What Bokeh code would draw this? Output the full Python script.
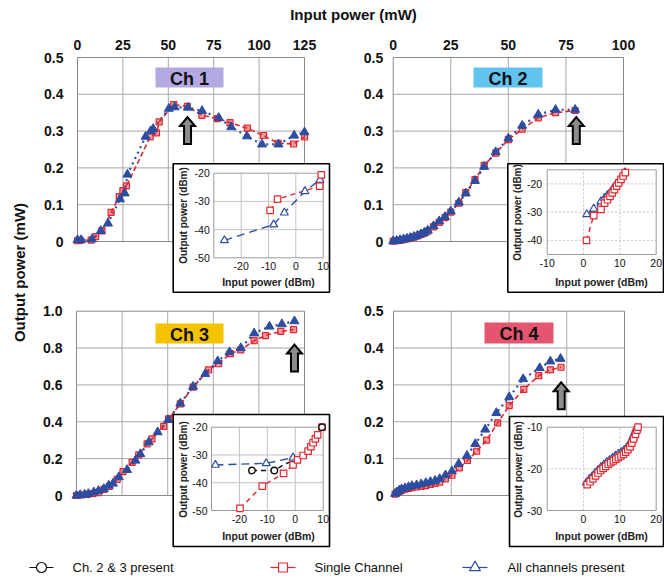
import math
from bokeh.plotting import figure
from bokeh.models import Range1d
from bokeh.embed import file_html
from bokeh.resources import INLINE
from bokeh.core.properties import value

W, H = 664, 578
FONT = value("Liberation Sans")
RED = "#e3262d"
BLUE = "#2c4da0"
BLACK = "#111111"

# ---------------- data ----------------
# Ch 1 main (input mW, output mW)
ch1_single_x = [0, 1.5, 7.5, 10, 13.5, 18.5, 23, 25, 27, 40, 43.5, 45, 53, 60.5, 68.5, 77, 84, 93.5, 102.5, 110.5, 119, 125]
ch1_single_y = [0.002, 0.003, 0.004, 0.013, 0.029, 0.079, 0.122, 0.138, 0.151, 0.284, 0.295, 0.325, 0.372, 0.367, 0.343, 0.334, 0.323, 0.308, 0.288, 0.267, 0.265, 0.284]
ch1_all_x = [0, 2, 8, 12.8, 16.8, 23.4, 26, 27.5, 37.5, 40.3, 41.7, 50.3, 53.5, 60.8, 68.6, 77.8, 84.6, 93.3, 101.6, 110.7, 119.3, 125]
ch1_all_y = [0.004, 0.004, 0.006, 0.029, 0.049, 0.115, 0.131, 0.182, 0.285, 0.300, 0.306, 0.361, 0.365, 0.364, 0.355, 0.336, 0.311, 0.286, 0.264, 0.264, 0.288, 0.297]
# Ch 1 inset (dBm)
ch1_in_single_x = [-9.4, -6.7, 8.7, 9.3]
ch1_in_single_y = [-33.2, -29.2, -24.6, -20.6]
ch1_in_all_x = [-26.1, -8.1, -4.2, 3.3, 8.8]
ch1_in_all_y = [-43.8, -38.2, -34.0, -26.4, -22.4]

# Ch 2 main
ch2_x = [0, 1.5, 3, 4.5, 6, 7.5, 9, 10.5, 12, 13.5, 15, 17.5, 20, 22.5, 25, 28.5, 31.5, 35.5, 39.5, 44.5, 50, 56, 63, 70.5, 79]
ch2_all_y = [0.001, 0.002, 0.004, 0.006, 0.008, 0.010, 0.013, 0.016, 0.020, 0.024, 0.030, 0.042, 0.055, 0.067, 0.082, 0.106, 0.131, 0.165, 0.203, 0.243, 0.280, 0.315, 0.345, 0.358, 0.358]
ch2_single_y = [0.001, 0.002, 0.003, 0.005, 0.007, 0.009, 0.012, 0.015, 0.019, 0.023, 0.028, 0.040, 0.052, 0.065, 0.080, 0.104, 0.133, 0.168, 0.207, 0.240, 0.277, 0.305, 0.336, 0.350, 0.356]
# Ch 2 inset
ch2_in_single_x = [0.8, 2.8, 4.8, 5.8, 6.6, 7.3, 7.9, 8.5, 9.1, 9.7, 10.3, 10.9, 11.5]
ch2_in_single_y = [-40.0, -31.2, -29.0, -26.8, -25.6, -24.4, -23.2, -22.0, -20.8, -19.6, -18.4, -17.2, -16.0]
ch2_in_all_x = [0.9, 2.8, 4.8, 5.8, 6.6, 7.4, 8.1, 8.8, 9.5, 10.2, 10.8, 11.4]
ch2_in_all_y = [-30.8, -28.8, -26.2, -25.0, -24.0, -23.0, -21.8, -20.6, -19.4, -18.2, -17.0, -15.9]

# Ch 3 main
ch3_all_x = [0, 2, 4.5, 6.5, 9.5, 12, 15, 17.7, 20, 23.2, 27.7, 32.3, 35, 39.6, 44.5, 50.2, 56.9, 63.9, 70.6, 77.4, 83.9, 90.1, 97.4, 105.8, 112.6, 119.5]
ch3_all_y = [0, 0.003, 0.005, 0.009, 0.018, 0.025, 0.036, 0.054, 0.065, 0.100, 0.139, 0.190, 0.225, 0.289, 0.344, 0.410, 0.500, 0.591, 0.660, 0.729, 0.778, 0.800, 0.880, 0.917, 0.930, 0.946]
ch3_single_x = [0, 3, 6, 9, 12, 15, 18, 22.3, 25.5, 30.5, 34.1, 38.7, 41.4, 47.8, 50.5, 56.9, 63.9, 72.4, 77.9, 84.3, 90, 97.4, 103.6, 112, 119]
ch3_single_y = [0, 0.003, 0.006, 0.010, 0.015, 0.033, 0.050, 0.087, 0.130, 0.180, 0.220, 0.280, 0.307, 0.375, 0.416, 0.497, 0.588, 0.682, 0.715, 0.770, 0.790, 0.840, 0.868, 0.890, 0.900]
# Ch 3 inset
ch3_in_single_x = [-19.8, -11.8, -4.2, -0.8, 0.8, 2.8, 4.6, 5.6, 6.4, 7.2, 8.0, 9.6]
ch3_in_single_y = [-49.2, -41.2, -36.6, -33.6, -31.8, -30.2, -28.6, -27.0, -25.6, -24.2, -22.8, -20.0]
ch3_in_all_x = [-28.6, -10.4, -0.8]
ch3_in_all_y = [-33.6, -33.0, -31.0]
ch3_in_23_x = [-15.5, -7.5, 9.6]
ch3_in_23_y = [-35.6, -35.6, -20.0]
ch3_in_23_line_x = [-15.5, -7.5, -4.0, 0.0, 3.0, 5.5, 9.6]
ch3_in_23_line_y = [-35.6, -35.6, -33.4, -31.8, -29.6, -26.6, -20.0]

# Ch 4 main
ch4_all_x = [0.7, 1.5, 2.5, 3.5, 5, 6.5, 8, 10, 12, 14, 16, 18, 20, 22.5, 25.3, 28.2, 31.8, 35.4, 39.7, 44.5, 50.1, 56.1, 63.3, 67.9, 72.3]
ch4_all_y = [0.005, 0.009, 0.014, 0.017, 0.020, 0.023, 0.026, 0.028, 0.031, 0.034, 0.037, 0.040, 0.045, 0.055, 0.066, 0.086, 0.108, 0.140, 0.179, 0.224, 0.267, 0.316, 0.346, 0.364, 0.371]
ch4_single_x = [0.7, 1.5, 2.5, 3.5, 5, 6.5, 8, 10, 12, 14, 16, 18, 20, 22.5, 25.3, 28.5, 32, 36, 40.3, 45.1, 50.1, 56.4, 62.9, 67.9, 72.5]
ch4_single_y = [0.004, 0.007, 0.011, 0.014, 0.017, 0.019, 0.021, 0.023, 0.025, 0.027, 0.030, 0.033, 0.036, 0.045, 0.055, 0.075, 0.095, 0.120, 0.150, 0.197, 0.244, 0.288, 0.325, 0.341, 0.348]
# Ch 4 inset
ch4_in_single_x = [1.0, 1.8, 2.6, 3.3, 4.0, 4.7, 5.4, 6.1, 6.8, 7.5, 8.2, 8.9, 9.6, 10.3, 11.0, 11.6, 12.2, 12.8, 13.3, 13.8, 14.3, 14.7, 15.0]
ch4_in_single_y = [-23.8, -23.1, -22.4, -21.7, -21.0, -20.4, -19.9, -19.4, -18.9, -18.5, -18.1, -17.7, -17.3, -16.9, -16.5, -16.0, -15.4, -14.7, -13.8, -12.8, -11.7, -10.7, -10.0]
ch4_in_all_x = [0.8, 1.6, 2.4, 3.2, 4.0, 4.8, 5.6, 6.4, 7.2, 8.0, 8.8, 9.6, 10.4, 11.2, 11.9, 12.5, 13.1, 13.6, 14.1, 14.5]
ch4_in_all_y = [-23.3, -22.5, -21.8, -21.0, -20.3, -19.6, -19.0, -18.4, -17.9, -17.4, -16.9, -16.4, -16.0, -15.5, -14.9, -14.2, -13.3, -12.3, -11.2, -10.3]

# arrows (tip position in data units)
arrow_tips = {"ch1": (60.6, 0.338), "ch2": (79.5, 0.338), "ch3": (119.5, 0.819), "ch4": (72.6, 0.307)}

# tick labels
mw_ticks_125 = [0, 25, 50, 75, 100, 125]
mw_ticks_100 = [0, 25, 50, 75, 100]
out_ticks_05 = [0, 0.1, 0.2, 0.3, 0.4, 0.5]
out_labels_05 = ["0", "0.1", "0.2", "0.3", "0.4", "0.5"]
out_ticks_10 = [0, 0.2, 0.4, 0.6, 0.8, 1.0]
out_labels_10 = ["0", "0.2", "0.4", "0.6", "0.8", "1.0"]

# ---------------- figure ----------------
p = figure(width=W, height=H, x_range=Range1d(0, W), y_range=Range1d(H, 0),
           output_backend="svg", toolbar_location=None,
           x_axis_location=None, y_axis_location=None, min_border=0)
p.grid.visible = False
p.outline_line_color = None
p.background_fill_color = "white"
p.border_fill_color = "white"


def panel(name, L, T, R, B, xlim, ylim):
    x0, x1 = xlim
    y0, y1 = ylim
    kx = (x1 - x0) / (R - L)
    ky = (y1 - y0) / (B - T)
    xs = x0 - L * kx
    ys = y0 - (H - B) * ky
    p.extra_x_ranges = {**p.extra_x_ranges, name + "_x": Range1d(xs, xs + W * kx)}
    p.extra_y_ranges = {**p.extra_y_ranges, name + "_y": Range1d(ys, ys + H * ky)}
    return dict(L=L, T=T, R=R, B=B, xlim=xlim, ylim=ylim, kx=kx, ky=ky,
                xr=name + "_x", yr=name + "_y")


def rn(pn):
    return dict(x_range_name=pn["xr"], y_range_name=pn["yr"])


def grid(pn, xt, yt, color, dash="solid", frame_color="#8a8a8a"):
    (x0, x1), (y0, y1) = pn["xlim"], pn["ylim"]
    gx = [t for t in xt if x0 < t < x1]
    gy = [t for t in yt if y0 < t < y1]
    p.segment(x0=gx, y0=[y0] * len(gx), x1=gx, y1=[y1] * len(gx),
              line_color=color, line_width=1, line_dash=dash, **rn(pn))
    p.segment(x0=[x0] * len(gy), y0=gy, x1=[x1] * len(gy), y1=gy,
              line_color=color, line_width=1, line_dash=dash, **rn(pn))
    p.quad(left=[x0], right=[x1], bottom=[y0], top=[y1], fill_color=None,
           line_color=frame_color, line_width=1, **rn(pn))


def yticklabels(pn, ticks, labels, gap, size, style):
    p.text(x=[pn["L"] - gap] * len(ticks), y=ticks, text=labels,
           x_range_name="default", y_range_name=pn["yr"],
           text_align="right", text_baseline="middle", text_font=FONT,
           text_font_size=size, text_font_style=style, text_color=BLACK)


def xticklabels(pn, ticks, labels, ypix, size, style):
    p.text(x=ticks, y=[ypix] * len(ticks), text=labels,
           x_range_name=pn["xr"], y_range_name="default",
           text_align="center", text_baseline="middle", text_font=FONT,
           text_font_size=size, text_font_style=style, text_color=BLACK)


def main_series(pn, sx, sy, ax, ay):
    p.line(sx, sy, line_color=RED, line_width=1.6, line_dash="5 3", **rn(pn))
    p.line(ax, ay, line_color=BLUE, line_width=2.2, line_dash="2 4", **rn(pn))
    p.scatter(sx, sy, marker="square", size=6, line_color=RED, fill_color=RED,
              fill_alpha=0.45, line_width=1.2, **rn(pn))
    p.scatter(ax, ay, marker="triangle", size=9, line_color=BLUE, fill_color=BLUE,
              line_width=1, **rn(pn))


def arrow(pn, tip):
    xa, ya = tip
    kx, ky = pn["kx"], pn["ky"]
    hw, hh, sw, sl = 7.5, 9, 3.5, 18
    xs = [xa, xa + hw * kx, xa + sw * kx, xa + sw * kx, xa - sw * kx, xa - sw * kx, xa - hw * kx]
    ys = [ya, ya - hh * ky, ya - hh * ky, ya - (hh + sl) * ky, ya - (hh + sl) * ky, ya - hh * ky, ya - hh * ky]
    p.patch(xs, ys, fill_color="#8c8c8c", line_color="black", line_width=2,
            line_join="miter", **rn(pn))


def ch_box(L, T, R, B, color, label):
    p.quad(left=[L], right=[R], top=[T], bottom=[B], fill_color=color,
           line_color=None)
    p.text(x=[(L + R) / 2], y=[(T + B) / 2 + 1], text=[label], text_align="center",
           text_baseline="middle", text_font=FONT, text_font_size="18px",
           text_font_style="bold", text_color=BLACK)


def inset(L, T, R, B):
    p.quad(left=[L], right=[R], top=[T], bottom=[B], fill_color="white",
           line_color="black", line_width=1.6)


def inset_labels(ylab_xy, xlab_xy):
    p.text(x=[ylab_xy[0]], y=[ylab_xy[1]], text=["Output power (dBm)"], angle=math.pi / 2,
           text_align="center", text_baseline="middle", text_font=FONT,
           text_font_size="10px", text_font_style="bold", text_color="#222222")
    p.text(x=[xlab_xy[0]], y=[xlab_xy[1]], text=["Input power (dBm)"],
           text_align="center", text_baseline="middle", text_font=FONT,
           text_font_size="10.5px", text_font_style="bold", text_color="#222222")


def inset_series(pn, sx, sy, ax, ay):
    p.line(ax, ay, line_color=BLUE, line_width=1.4, line_dash="8 5", **rn(pn))
    p.line(sx, sy, line_color=RED, line_width=1.4, line_dash="5 4", **rn(pn))
    p.scatter(ax, ay, marker="triangle", size=8, line_color=BLUE, fill_color="white",
              line_width=1.2, **rn(pn))
    p.scatter(sx, sy, marker="square", size=6.5, line_color=RED, fill_color="white",
              line_width=1.2, **rn(pn))


# ---------------- titles ----------------
p.text(x=[353], y=[14], text=["Input power (mW)"], text_align="center",
       text_baseline="middle", text_font=FONT, text_font_size="15px",
       text_font_style="bold", text_color=BLACK)
p.text(x=[19], y=[272], text=["Output power (mW)"], angle=math.pi / 2,
       text_align="center", text_baseline="middle", text_font=FONT,
       text_font_size="15px", text_font_style="bold", text_color=BLACK)

GRID = "#a8a8a8"

# ---------------- Ch 1 ----------------
p1 = panel("p1", 77, 57, 304, 241, (0, 125), (0, 0.5))
grid(p1, mw_ticks_125, out_ticks_05, GRID)
yticklabels(p1, out_ticks_05, out_labels_05, 14, "14px", "bold")
xticklabels(p1, mw_ticks_125, [str(t) for t in mw_ticks_125], 44, "14px", "bold")
main_series(p1, ch1_single_x, ch1_single_y, ch1_all_x, ch1_all_y)
ch_box(155, 67, 223, 87, "#b3a8e0", "Ch 1")
arrow(p1, arrow_tips["ch1"])

i1 = panel("i1", 213.3, 172.7, 322.7, 257.3, (-30, 10), (-50, -20))
inset(172.7, 163.3, 329, 291.7)
grid(i1, [-30, -20, -10, 0, 10], [-50, -40, -30, -20], "#c4c4c4", frame_color="#9a9a9a")
yticklabels(i1, [-20, -30, -40, -50], ["-20", "-30", "-40", "-50"], 4, "10.5px", "normal")
xticklabels(i1, [-20, -10, 0, 10], ["-20", "-10", "0", "10"], 265.5, "10.5px", "normal")
inset_labels((183, 215), (268, 281))
inset_series(i1, ch1_in_single_x, ch1_in_single_y, ch1_in_all_x, ch1_in_all_y)

# ---------------- Ch 2 ----------------
p2 = panel("p2", 392.7, 57, 623, 241, (0, 100), (0, 0.5))
grid(p2, mw_ticks_100, out_ticks_05, GRID)
yticklabels(p2, out_ticks_05, out_labels_05, 10, "14px", "bold")
xticklabels(p2, mw_ticks_100, [str(t) for t in mw_ticks_100], 44, "14px", "bold")
main_series(p2, ch2_x, ch2_single_y, ch2_x, ch2_all_y)
ch_box(473, 67, 542, 87, "#62c3f0", "Ch 2")
arrow(p2, arrow_tips["ch2"])

i2 = panel("i2", 546.7, 169.3, 655.7, 254, (-10, 20), (-45, -15))
inset(507.3, 163.3, 663, 291.7)
grid(i2, [-10, 0, 10, 20], [-20, -30, -40], "#c4c4c4", dash="2 2", frame_color="#9a9a9a")
yticklabels(i2, [-20, -30, -40], ["-20", "-30", "-40"], 5, "10.5px", "normal")
xticklabels(i2, [-10, 0, 10, 20], ["-10", "0", "10", "20"], 262, "10.5px", "normal")
inset_labels((517, 212), (601, 281))
inset_series(i2, ch2_in_single_x, ch2_in_single_y, ch2_in_all_x, ch2_in_all_y)

# ---------------- Ch 3 ----------------
p3 = panel("p3", 76, 310.7, 304, 495, (0, 125), (0, 1.0))
grid(p3, mw_ticks_125, out_ticks_10, GRID)
yticklabels(p3, out_ticks_10, out_labels_10, 14, "14px", "bold")
main_series(p3, ch3_single_x, ch3_single_y, ch3_all_x, ch3_all_y)
ch_box(155, 323, 223, 343, "#f5c200", "Ch 3")
arrow(p3, arrow_tips["ch3"])

i3 = panel("i3", 211, 426.7, 322.7, 510, (-30, 10), (-50, -20))
inset(172.7, 414, 329, 546)
grid(i3, [-30, -20, -10, 0, 10], [-50, -40, -30, -20], "#c4c4c4", frame_color="#9a9a9a")
yticklabels(i3, [-20, -30, -40, -50], ["-20", "-30", "-40", "-50"], 4, "10.5px", "normal")
xticklabels(i3, [-20, -10, 0, 10], ["-20", "-10", "0", "10"], 518.5, "10.5px", "normal")
inset_labels((183, 469), (268, 535))
p.line(ch3_in_23_line_x, ch3_in_23_line_y, line_color=BLACK, line_width=1.4, line_dash="5 4", **rn(i3))
inset_series(i3, ch3_in_single_x, ch3_in_single_y, ch3_in_all_x, ch3_in_all_y)
p.scatter(ch3_in_23_x, ch3_in_23_y, marker="circle", size=6.5, line_color=BLACK,
          fill_color="white", line_width=1.4, **rn(i3))

# ---------------- Ch 4 ----------------
p4 = panel("p4", 393, 310.7, 624, 495, (0, 100), (0, 0.5))
grid(p4, mw_ticks_100, out_ticks_05, GRID)
yticklabels(p4, out_ticks_05, out_labels_05, 10, "14px", "bold")
main_series(p4, ch4_single_x, ch4_single_y, ch4_all_x, ch4_all_y)
ch_box(484, 322, 553, 343, "#e4566f", "Ch 4")
arrow(p4, arrow_tips["ch4"])

i4 = panel("i4", 546.7, 426.7, 655.7, 510, (-10, 20), (-30, -10))
inset(509, 416, 663, 546)
grid(i4, [-10, 0, 10, 20], [-30, -20, -10], "#c4c4c4", dash="2 2", frame_color="#9a9a9a")
yticklabels(i4, [-10, -20, -30], ["-10", "-20", "-30"], 5, "10.5px", "normal")
xticklabels(i4, [0, 10, 20], ["0", "10", "20"], 518.5, "10.5px", "normal")
inset_labels((518, 469), (601, 535))
inset_series(i4, ch4_in_single_x, ch4_in_single_y, ch4_in_all_x, ch4_in_all_y)

# ---------------- legend ----------------
LY = 567
p.segment(x0=[29], y0=[LY], x1=[53], y1=[LY], line_color=BLACK, line_width=1.2)
p.scatter(x=[41], y=[LY], marker="circle", size=10, line_color=BLACK, fill_color="white", line_width=1.2)
p.segment(x0=[270], y0=[LY], x1=[295], y1=[LY], line_color=RED, line_width=1.2)
p.scatter(x=[282.5], y=[LY], marker="square", size=9, line_color=RED, fill_color="white", line_width=1.2)
p.segment(x0=[462], y0=[LY], x1=[487], y1=[LY], line_color=BLUE, line_width=1.2)
p.scatter(x=[474.5], y=[LY], marker="triangle", size=11, line_color=BLUE, fill_color="white", line_width=1.2)
p.text(x=[72, 314, 507], y=[LY, LY, LY],
       text=["Ch. 2 & 3 present", "Single Channel", "All channels present"],
       text_align="left", text_baseline="middle", text_font=FONT,
       text_font_size="13px", text_color=BLACK)

open("out.html", "w").write(file_html(p, INLINE))
